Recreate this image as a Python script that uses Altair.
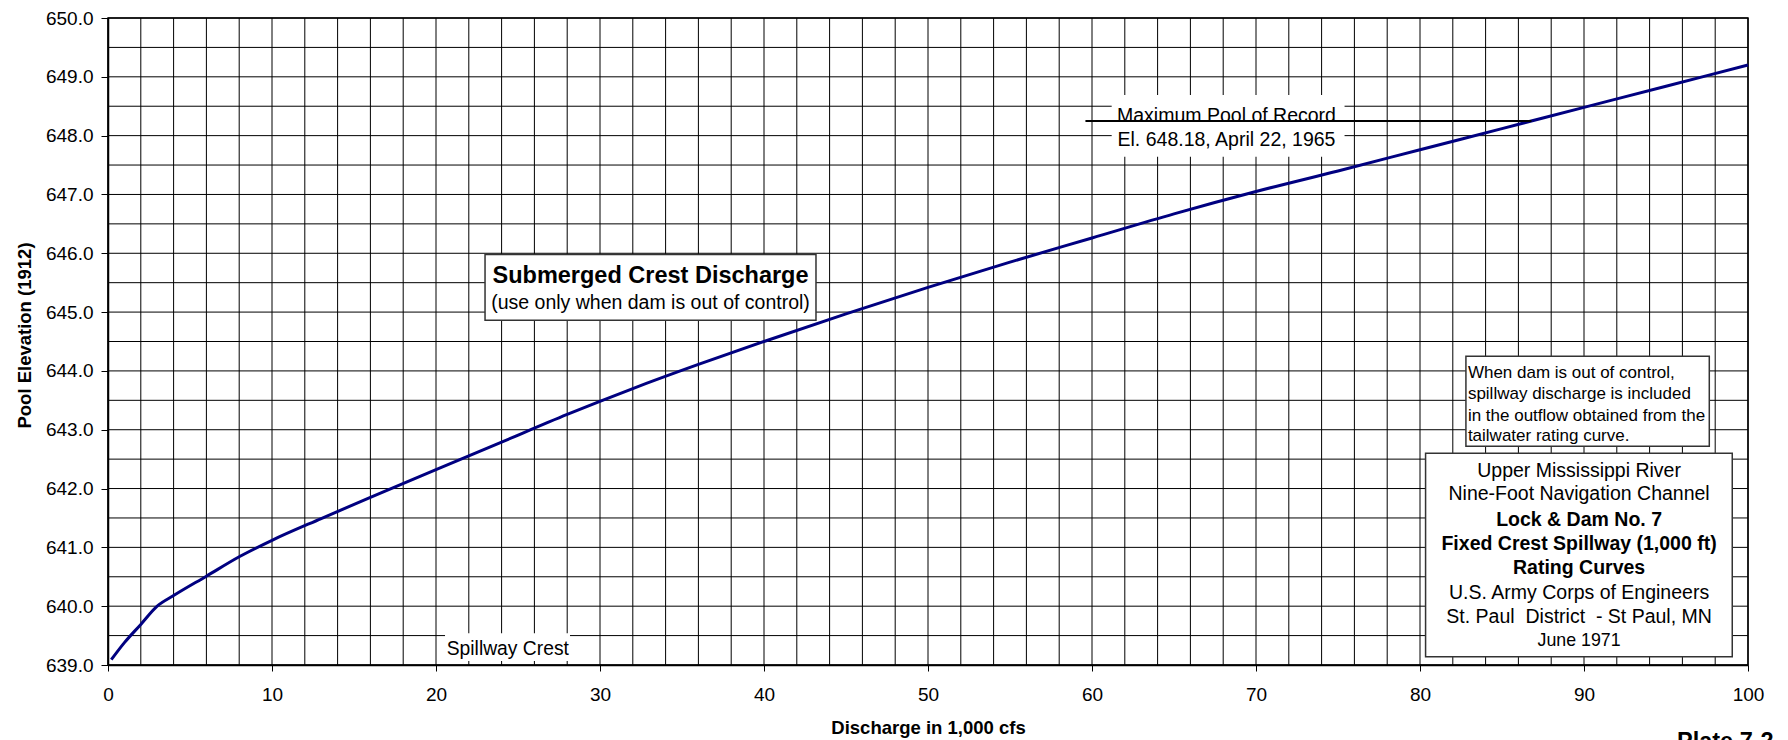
import altair as alt
import pandas as pd

# ---- data ----
discharge = [0.2, 1, 2, 3, 4, 6, 8, 10, 13, 16, 20, 24, 28, 32, 36, 40, 45, 50,
             55, 60, 65, 70, 75, 80, 85, 90, 95, 100]
elevation = [639.09, 639.38, 639.69, 640.00, 640.18, 640.51, 640.84, 641.12, 641.49,
             641.85, 642.32, 642.79, 643.26, 643.70, 644.11, 644.50, 644.97, 645.42,
             645.85, 646.26, 646.67, 647.05, 647.40, 647.76, 648.12, 648.48, 648.84, 649.20]

x_ticks = list(range(0, 101, 10))
y_ticks = list(range(639, 651))
grid_x = list(range(0, 101, 2))
grid_y = [639 + 0.5 * i for i in range(23)]

# annotation boxes (data coordinates)
box_name = ["maxpool", "spillway", "submerged", "note", "title"]
box_x1 = [61.2, 20.55, 22.99, 82.8, 80.34]
box_x2 = [75.4, 28.17, 43.17, 97.64, 99.04]
box_y1 = [647.64, 639.07, 644.86, 642.72, 639.14]
box_y2 = [648.69, 639.54, 645.98, 644.25, 642.60]
box_border = [False, False, True, True, True]

# maximum pool of record line
maxpool_x1 = [59.6]
maxpool_x2 = [86.8]
maxpool_y = [648.25]

# texts: regular, centered
reg_text = ["Maximum Pool of Record", "El. 648.18, April 22, 1965",
            "(use only when dam is out of control)", "Spillway Crest",
            "Upper Mississippi River", "Nine-Foot Navigation Channel",
            "U.S. Army Corps of Engineers", "St. Paul\u00a0 District\u00a0 - St Paul, MN",
            "June 1971"]
reg_x = [68.2, 68.2, 33.08, 24.38, 89.7, 89.7, 89.7, 89.7, 89.7]
reg_y = [648.24, 647.83, 645.05, 639.17, 642.19, 641.80, 640.13, 639.72, 639.32]
reg_size = [19.5, 19.5, 19.5, 19.3, 19.5, 19.5, 19.5, 19.5, 17.8]

# texts: bold, centered
bold_text = ["Submerged Crest Discharge", "Lock & Dam No. 7",
             "Fixed Crest Spillway (1,000 ft)", "Rating Curves"]
bold_x = [33.08, 89.7, 89.7, 89.7]
bold_y = [645.50, 641.37, 640.95, 640.54]
bold_size = [23.5, 19.5, 19.5, 19.5]

# note box text (left aligned)
note_text = ["When dam is out of control,", "spillway discharge is included",
             "in the outflow obtained from the", "tailwater rating curve."]
note_x = [82.92, 82.92, 82.92, 82.92]
note_y = [643.88, 643.52, 643.15, 642.80]

# plate label
plate_text = ["Plate 7-2"]
plate_x = [95.67]
plate_y = [637.58]

FONT = "Liberation Sans"

xs = alt.Scale(domain=[0, 100], nice=False, zero=False)
ys = alt.Scale(domain=[639, 650], nice=False, zero=False)

x_axis = alt.Axis(values=x_ticks, format="d", grid=False, tickSize=6, labelPadding=14,
                  labelFontSize=19, labelFont=FONT, labelColor="black", labelFlush=False,
                  labelOverlap=False, tickColor="black", domainColor="black", domainWidth=1.5,
                  title="Discharge in 1,000 cfs", titleFont=FONT, titleFontSize=18.5,
                  titleFontWeight="bold", titleColor="black", titleX=820, titleY=68,
                  titleBaseline="alphabetic", titleAlign="center")
y_axis = alt.Axis(values=y_ticks, format=".1f", grid=False, tickSize=7, labelPadding=8,
                  labelFontSize=19, labelFont=FONT, labelColor="black", labelFlush=False,
                  labelOverlap=False, tickColor="black", domainColor="black", domainWidth=1.5,
                  title="Pool Elevation (1912)", titleFont=FONT, titleFontSize=18.5,
                  titleFontWeight="bold", titleColor="black", titleX=-84, titleY=317,
                  titleBaseline="middle", titleAlign="center", titleAngle=270)

curve_df = pd.DataFrame({"q": discharge, "elev": elevation})

vgrid = alt.Chart(pd.DataFrame({"q": grid_x})).mark_rule(color="black", strokeWidth=1).encode(
    x=alt.X("q:Q", scale=xs, axis=x_axis)
)
hgrid = alt.Chart(pd.DataFrame({"elev": grid_y})).mark_rule(color="black", strokeWidth=1).encode(
    y=alt.Y("elev:Q", scale=ys, axis=y_axis)
)

curve = alt.Chart(curve_df).mark_line(color="#000080", strokeWidth=3, interpolate="monotone").encode(
    x=alt.X("q:Q", scale=xs),
    y=alt.Y("elev:Q", scale=ys),
)

box_df = pd.DataFrame({"name": box_name, "q": box_x1, "x2": box_x2,
                       "elev": box_y1, "y2": box_y2, "border": box_border})
white_boxes = alt.Chart(box_df).transform_filter("!datum.border").mark_rect(
    fill="white", strokeWidth=0).encode(
    x=alt.X("q:Q", scale=xs), x2="x2:Q",
    y=alt.Y("elev:Q", scale=ys), y2="y2:Q")
framed_boxes = alt.Chart(box_df).transform_filter("datum.border").mark_rect(
    fill="white", stroke="#333333", strokeWidth=1.5).encode(
    x=alt.X("q:Q", scale=xs), x2="x2:Q",
    y=alt.Y("elev:Q", scale=ys), y2="y2:Q")

maxpool_line = alt.Chart(pd.DataFrame({"q": maxpool_x1, "x2": maxpool_x2, "elev": maxpool_y})).mark_rule(
    color="black", strokeWidth=2).encode(
    x=alt.X("q:Q", scale=xs), x2="x2:Q",
    y=alt.Y("elev:Q", scale=ys))

reg_layer = alt.Chart(pd.DataFrame({"t": reg_text, "q": reg_x, "elev": reg_y, "s": reg_size})).mark_text(
    font=FONT, align="center", baseline="alphabetic", color="black").encode(
    x=alt.X("q:Q", scale=xs), y=alt.Y("elev:Q", scale=ys),
    text="t:N", size=alt.Size("s:Q", scale=None, legend=None))

bold_layer = alt.Chart(pd.DataFrame({"t": bold_text, "q": bold_x, "elev": bold_y, "s": bold_size})).mark_text(
    font=FONT, fontWeight="bold", align="center", baseline="alphabetic", color="black").encode(
    x=alt.X("q:Q", scale=xs), y=alt.Y("elev:Q", scale=ys),
    text="t:N", size=alt.Size("s:Q", scale=None, legend=None))

note_layer = alt.Chart(pd.DataFrame({"t": note_text, "q": note_x, "elev": note_y})).mark_text(
    font=FONT, fontSize=17, align="left", baseline="alphabetic", color="black").encode(
    x=alt.X("q:Q", scale=xs), y=alt.Y("elev:Q", scale=ys), text="t:N")

plate_layer = alt.Chart(pd.DataFrame({"t": plate_text, "q": plate_x, "elev": plate_y})).mark_text(
    font=FONT, fontSize=23.5, fontWeight="bold", align="left", baseline="alphabetic",
    color="black").encode(
    x=alt.X("q:Q", scale=xs), y=alt.Y("elev:Q", scale=ys), text="t:N")

chart = alt.layer(
    vgrid, hgrid, white_boxes, framed_boxes, curve, maxpool_line,
    reg_layer, bold_layer, note_layer, plate_layer
).properties(
    width=1640, height=647,
    autosize=alt.AutoSizeParams(type="none"),
    padding={"left": 100, "top": 10, "right": 25, "bottom": 75},
    background="white",
).configure_view(stroke="black", strokeWidth=1.5)

chart.save("out.html", embed_options={"renderer": "svg", "actions": False})
